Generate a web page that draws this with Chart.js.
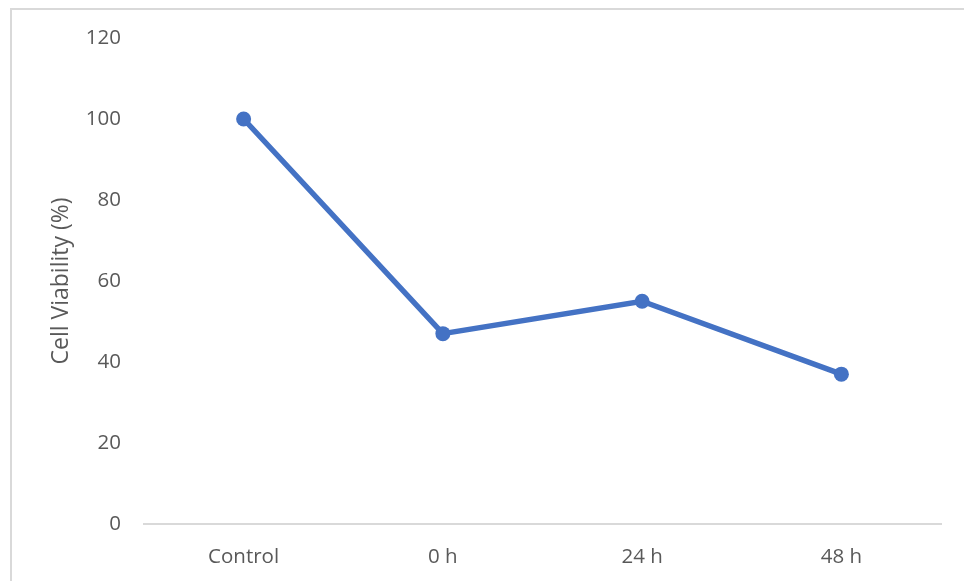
<!DOCTYPE html>
<html>
<head>
<meta charset="utf-8">
<script src="https://cdn.jsdelivr.net/npm/chart.js@4"></script>
<style>
  html, body { margin: 0; padding: 0; background: #fff; }
  #wrap { position: relative; width: 964px; height: 581px; overflow: hidden; }
  #frame { position: absolute; left: 10px; top: 8px; width: 1000px; height: 700px;
           border-left: 2px solid #d9d9d9; border-top: 2px solid #d9d9d9; box-sizing: border-box; }
  canvas { position: absolute; left: 0; top: 0; }
</style>
</head>
<body>
<div id="wrap">
  <div id="frame"></div>
  <canvas id="c" width="964" height="581"></canvas>
</div>
<script>
const categories = ["Control", "0 h", "24 h", "48 h"];
const viability = [100, 47, 55, 37];
const yTitle = "Cell Viability (%)";
const yMin = 0, yMax = 120, yStep = 20;

const textColor = "#595959";
const tickFont = { family: "'Open Sans', sans-serif", size: 20.5 };
const titleFont = { family: "'Open Sans', sans-serif", size: 23 };

new Chart(document.getElementById("c"), {
  type: "line",
  data: {
    labels: categories,
    datasets: [{
      data: viability,
      borderColor: "#4472C4",
      backgroundColor: "#4472C4",
      borderWidth: 5.5,
      pointRadius: 7.5,
      pointHoverRadius: 7.5,
      pointBorderWidth: 0,
      tension: 0,
      fill: false
    }]
  },
  options: {
    responsive: false,
    animation: false,
    layout: { padding: { left: 0, right: 23, top: 38, bottom: 0 } },
    plugins: { legend: { display: false }, tooltip: { enabled: false } },
    scales: {
      x: {
        offset: true,
        grid: { display: false, drawTicks: false },
        border: { display: true, color: "#d9d9d9", width: 2 },
        ticks: { color: textColor, font: tickFont, padding: 21, maxRotation: 0 },
        afterFit: s => { s.height = 57; }
      },
      y: {
        min: yMin, max: yMax,
        grid: { display: false, drawTicks: false },
        border: { display: false },
        ticks: { stepSize: yStep, color: textColor, font: tickFont, padding: 23 },
        title: { display: true, text: yTitle, color: textColor, font: titleFont, padding: { top: 48, bottom: 0 } },
        afterFit: s => { s.width = 144; }
      }
    }
  }
});
</script>
</body>
</html>
